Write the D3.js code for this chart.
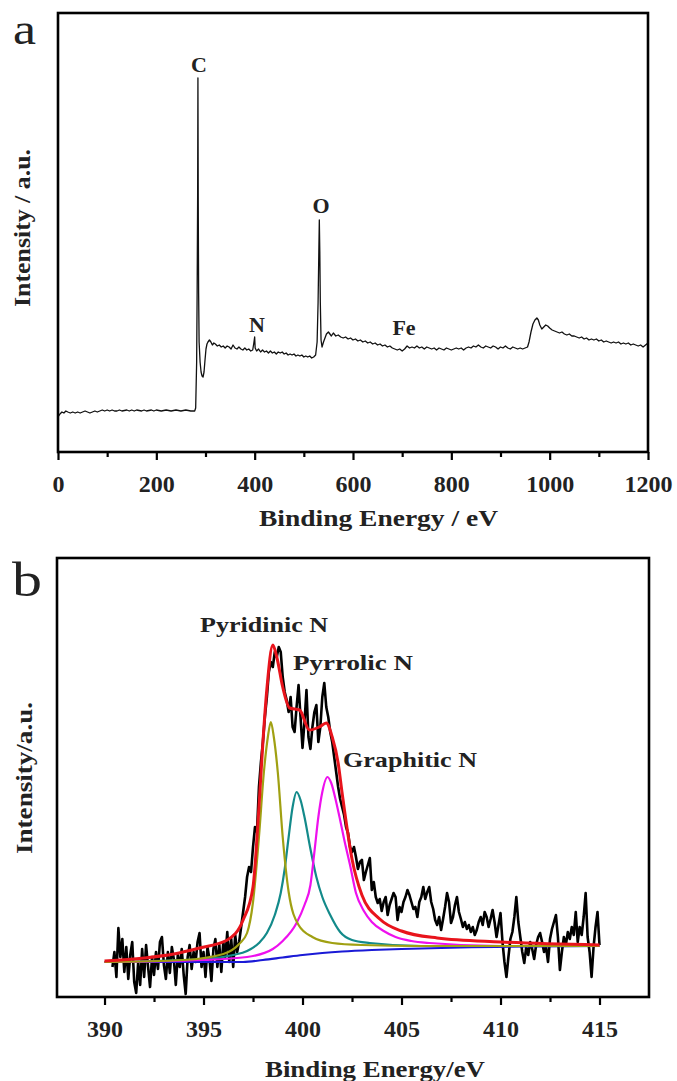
<!DOCTYPE html>
<html>
<head>
<meta charset="utf-8">
<script src="https://cdn.jsdelivr.net/npm/d3@7"></script>
<style>
  body { margin: 0; background: #fff; }
  text { font-family: "Liberation Serif", "Times New Roman", serif; }
</style>
</head>
<body>
<svg id="chart" width="677" height="1081"></svg>
<script>
// ---- panel a : survey spectrum [binding energy, intensity] ----
const survey = [
  [0,35],[4,38],[8,40],[12,39],[16,41],[20,40],[25,39],[30,40],[35,39],[40,40],[45,39],[50,40],[55,41],[60,40],[65,39],[70,40],[75,41],[80,40],[85,41],[90,42],[95,41],[100,42],[105,41],[110,42],[115,41],[120,41],[125,42],[130,41],[140,42],[145,41],[150,42],[155,41],[160,42],[170,41],[175,42],[180,41],[190,42],[195,41],[200,42],[210,41],[220,42],[230,41],[240,42],[250,41],[260,42],[270,41],[278,41],[280,44],
  [282,90],[283,160],[284,255],[284.6,374],[285.2,255],[286,160],[287,110],[289,90],[291,80],[293,76],[295,75],[297,80],[299,92],[301,103],[303,108],[305,110],[308,112],[311,110],[314,107],[317,109],[320,108],[324,106],[328,107],[332,105],[336,106],[340,104],[344,106],[348,105],[352,103],[356,107],[360,104],[364,103],[368,105],[372,103],[376,102],[380,104],[384,102],[388,103],[392,101],[396,102],[398,108],[400,115],[401,104],[404,101],[408,103],[412,100],[416,102],[420,100],[424,101],[428,99],[432,101],[436,99],[440,100],[444,98],[448,100],[452,99],[456,100],[460,98],[464,99],[468,97],[472,98],[476,97],[480,98],[484,96],[488,97],[492,96],[496,97],[500,95],[504,96],[508,95],[512,96],[516,94],[520,95],[524,97],
  [527,110],[529,150],[530.5,200],[531.5,232],[532.5,200],[533.5,150],[535,112],[537,105],[540,110],[543,114],[546,118],[550,120],[553,118],[556,116],[560,119],[565,116],[570,117],[575,115],[580,114],[585,115],[590,113],[595,114],[600,112],[605,113],[610,111],[615,112],[620,110],[625,111],[630,109],[635,110],[640,108],[645,109],[650,107],[655,108],[660,106],[665,107],[670,105],[675,106],[680,104],[685,103],[690,102],[695,103],[700,101],[705,103],[710,106],[715,104],[720,105],[725,104],[730,106],[735,104],[740,105],[745,103],[750,105],[755,104],[760,103],[765,104],[770,102],[775,104],[780,103],[785,102],[790,104],[795,103],[800,102],[805,103],[810,104],[815,103],[820,104],[825,102],[830,104],[835,105],[840,104],[845,106],[850,105],[855,107],[860,105],[865,104],[870,106],[875,105],[880,104],[885,106],[890,105],[895,103],[900,105],[905,104],[910,106],[915,104],[920,103],[925,105],[930,104],[935,103],[940,104],[945,103],[950,104],[955,105],
  [958,110],[962,120],[966,128],[970,132],[974,134],[977,132],[980,127],[984,123],[988,125],[992,127],[996,126],[1000,124],[1005,122],[1010,121],[1015,120],[1020,119],[1025,120],[1030,118],[1035,117],[1040,118],[1045,116],[1050,116],[1055,115],[1060,114],[1065,115],[1070,113],[1075,114],[1080,112],[1085,113],[1090,112],[1095,113],[1100,111],[1105,112],[1110,110],[1115,111],[1120,110],[1125,109],[1130,110],[1135,109],[1140,110],[1145,108],[1150,109],[1155,108],[1160,109],[1165,107],[1170,108],[1175,107],[1180,106],[1185,107],[1190,105],[1195,107],[1200,109]
];
const surveyPeaks = [
  { name: "C",  x: 199, y: 72 },
  { name: "N",  x: 257, y: 332 },
  { name: "O",  x: 321, y: 213 },
  { name: "Fe", x: 404, y: 335 }
];
const surveyTicks = [0, 200, 400, 600, 800, 1000, 1200];

// ---- panel b : N 1s high resolution ----
const rawStart = 390.4, rawStep = 0.1;
const rawN1s = [
  30,45,20,69,40,58,25,50,18,42,55,15,4,35,12,48,20,52,30,10,40,22,45,28,55,60,32,18,45,24,50,38,12,42,30,48,22,3,40,52,28,45,35,55,64,30,45,20,50,38,16,48,58,30,52,25,55,40,65,35,58,30,62,45,55,70,85,
  100,120,130,125,150,170,165,210,235,255,280,300,325,335,330,345,340,350,345,320,305,297,285,300,270,265,290,312,280,249,275,307,260,248,270,285,292,255,270,300,314,290,280,265,255,240,225,210,198,190,
  182,170,164,150,145,150,140,128,135,137,117,125,132,139,107,115,100,94,98,86,95,100,82,92,98,104,100,77,90,85,95,100,107,102,95,88,90,80,95,100,110,98,105,110,95,88,77,72,80,67,78,90,104,95,74,80,92,100,85,78,
  70,75,68,72,65,70,62,67,75,80,72,85,80,70,78,87,75,60,72,84,55,35,20,40,58,65,80,100,75,60,45,34,50,42,55,48,38,52,60,64,55,45,50,35,58,68,75,82,60,27,45,60,52,65,58,70,62,85,55,70,62,80,104,60,45,20,50,70,85,52
];
const fitEnvelope = [[390,36],[392,39],[393.5,43],[394.8,49],[396.2,57],[397,77],[397.5,110],[397.8,190],[398,255],[398.2,308],[398.5,352],[398.7,340],[399,310],[399.35,289],[399.85,287],[400.35,267],[400.85,270],[401.2,274],[401.5,260],[401.8,234],[402,204],[402.5,138],[403,102],[403.9,78],[405,66],[406.8,59],[410,55],[415,52]];
const fitPyridinic = [[390,35],[394,37],[396,43],[396.8,53],[397.2,64],[397.5,95],[397.8,160],[398.05,225],[398.25,260],[398.4,275],[398.55,260],[398.75,225],[399,160],[399.3,105],[399.8,72],[400.5,60],[401.5,54],[403,52],[406,51],[415,51]];
const fitPyrrolic = [[390,35],[395,38],[396.5,42],[397.2,46],[397.8,54],[398.2,64],[398.6,82],[398.9,104],[399.1,128],[399.3,160],[399.5,190],[399.7,205],[399.9,197],[400.1,180],[400.4,148],[400.7,120],[401,100],[401.4,82],[401.9,65],[402.5,57],[403.4,54],[406,51],[415,51]];
const fitGraphitic = [[390,35],[395,37],[397.2,40],[398.5,48],[399,56],[399.7,74],[400.1,92],[400.4,112],[400.6,145],[400.8,180],[401,205],[401.26,220],[401.45,214],[401.7,195],[401.9,177],[402.1,158],[402.4,132],[402.7,104],[403.1,86],[403.5,75],[404.1,66],[404.7,60],[405.5,56],[406.4,54],[410,51],[415,51]];
const fitBackground = [[390,35],[397,35],[398,37],[399,39.5],[400,42],[401,44],[402,45.5],[403.5,47],[405,48],[408,49.5],[415,51]];
const n1sLabels = [
  { name: "Pyridinic N", x: 200, y: 632, w: 128 },
  { name: "Pyrrolic N",  x: 293, y: 670, w: 120 },
  { name: "Graphitic N", x: 343, y: 767, w: 134 }
];
const n1sTicks = [390, 395, 400, 405, 410, 415];
const n1sMinor = [392.5, 397.5, 402.5, 407.5, 412.5];

const svg = d3.select("#chart");

function frame(g, x, left, top, w, h, major, minor) {
  // bottom axis, ticks pointing outward, no left/right ticks
  g.append("g")
    .attr("transform", "translate(0," + (top + h) + ")")
    .call(d3.axisBottom(x).tickValues(minor).tickSize(5).tickFormat(""))
    .call(a => a.select(".domain").remove())
    .selectAll("line").attr("stroke", "#000").attr("stroke-width", 2.2);
  const ax = g.append("g")
    .attr("transform", "translate(0," + (top + h) + ")")
    .call(d3.axisBottom(x).tickValues(major).tickSize(8).tickPadding(10).tickFormat(d3.format("d")));
  ax.select(".domain").remove();
  ax.selectAll("line").attr("stroke", "#000").attr("stroke-width", 2.2);
  ax.selectAll("text")
    .attr("fill", "#222")
    .style("font-family", "Liberation Serif, serif")
    .style("font-size", "24px")
    .style("font-weight", "bold")
    .attr("dy", "0.9em");
  g.append("rect")
    .attr("x", left).attr("y", top).attr("width", w).attr("height", h)
    .attr("fill", "none").attr("stroke", "#000").attr("stroke-width", 2.6);
}

function label(g, txt, x, y, size, w, opts) {
  const t = g.append("text").attr("x", x).attr("y", y)
    .style("font-size", size + "px").style("font-weight", (opts && opts.normal) ? "normal" : "bold")
    .attr("fill", "#222").text(txt);
  if (w) t.attr("textLength", w).attr("lengthAdjust", "spacingAndGlyphs");
  if (opts && opts.rotate) t.attr("transform", "rotate(-90," + x + "," + y + ")").attr("text-anchor", "middle");
  return t;
}

// ================= panel a =================
{
  const left = 58, top = 13, w = 590, h = 439;
  const x = d3.scaleLinear().domain([0, 1200]).range([left, left + w]);
  const y = d3.scaleLinear().domain([0, 439]).range([top + h, top]);
  const g = svg.append("g");

  g.append("path").datum(survey)
    .attr("fill", "none").attr("stroke", "#111").attr("stroke-width", 1.3)
    .attr("stroke-linejoin", "round")
    .attr("d", d3.line().x(d => x(d[0])).y(d => y(d[1])));

  frame(g, x, left, top, w, h, surveyTicks, d3.range(100, 1200, 200));

  surveyPeaks.forEach(p => label(g, p.name, p.x, p.y, 22).attr("text-anchor", "middle"));
  label(g, "a", 13, 44, 44, 23, { normal: true });
  label(g, "Binding Energy / eV", 259, 526, 23, 239);
  label(g, "Intensity / a.u.", 30, 228, 23, 158, { rotate: true });
}

// ================= panel b =================
{
  const left = 57, top = 558, w = 592, h = 439;
  const x = d3.scaleLinear().domain([387.6, 417.5]).range([left, left + w]);
  const y = d3.scaleLinear().domain([0, 439]).range([top + h, top]);
  const g = svg.append("g");
  const smooth = d3.line().curve(d3.curveMonotoneX).x(d => x(d[0])).y(d => y(d[1]));

  g.append("path").datum(rawN1s)
    .attr("fill", "none").attr("stroke", "#000").attr("stroke-width", 2.6)
    .attr("stroke-linejoin", "round")
    .attr("d", d3.line().x((d, i) => x(rawStart + i * rawStep)).y(d => y(d)));

  const fits = [
    { data: fitBackground, color: "#1a1ad6" },
    { data: fitPyrrolic,   color: "#138a8a" },
    { data: fitGraphitic,  color: "#ee10ee" },
    { data: fitPyridinic,  color: "#a0a012" },
    { data: fitEnvelope,   color: "#e8141c", width: 3 }
  ];
  fits.forEach(f => g.append("path").datum(f.data)
    .attr("fill", "none").attr("stroke", f.color).attr("stroke-width", f.width || 2.2)
    .attr("d", smooth));

  frame(g, x, left, top, w, h, n1sTicks, n1sMinor);

  n1sLabels.forEach(p => label(g, p.name, p.x, p.y, 21, p.w));
  label(g, "b", 12, 596, 48, 30, { normal: true });
  label(g, "Binding Energy/eV", 265, 1077, 23, 220);
  label(g, "Intensity/a.u.", 32, 778, 23, 152, { rotate: true });
}
</script>
</body>
</html>
